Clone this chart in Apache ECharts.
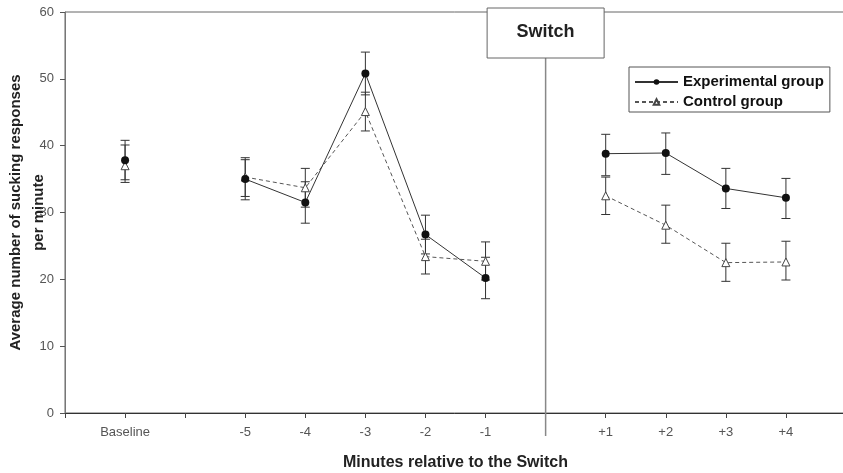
<!DOCTYPE html>
<html><head><meta charset="utf-8">
<script src="https://cdn.jsdelivr.net/npm/echarts@6/dist/echarts.min.js"></script>
<style>html,body{margin:0;padding:0;background:#fff}#c{width:843px;height:473px}</style>
</head><body><div id="c"></div>
<script>
var categories = ['', 'Baseline', '', '-5', '-4', '-3', '-2', '-1', '', '+1', '+2', '+3', '+4', ''];
var switchIndex = 8;
var switchLabel = 'Switch';
var seriesNames = ['Experimental group', 'Control group'];
var expMean = [null, 37.8, null, 35.0, 31.5, 50.8, 26.7, 20.2, null, 38.8, 38.9, 33.6, 32.2, null];
var expHigh = [null, 40.8, null, 38.2, 34.6, 54.0, 29.6, 23.3, null, 41.7, 41.9, 36.6, 35.1, null];
var expLow  = [null, 34.5, null, 31.9, 28.4, 47.6, 23.8, 17.1, null, 35.5, 35.7, 30.6, 29.1, null];
var ctrlMean = [null, 37.0, null, 35.3, 33.7, 45.1, 23.4, 22.7, null, 32.5, 28.1, 22.5, 22.6, null];
var ctrlHigh = [null, 40.1, null, 37.9, 36.6, 48.0, 26.0, 25.6, null, 35.3, 31.1, 25.4, 25.7, null];
var ctrlLow  = [null, 34.9, null, 32.4, 30.8, 42.2, 20.8, 19.9, null, 29.7, 25.4, 19.7, 19.9, null];
var yTicks = [0, 10, 20, 30, 40, 50, 60];
var xTitle = 'Minutes relative to the Switch';
var yTitle = 'Average number of sucking responses\nper minute';

function errData(lo, hi) {
  var out = [];
  for (var i = 0; i < lo.length; i++) if (lo[i] != null) out.push([i, lo[i], hi[i]]);
  return out;
}
function errRender(params, api) {
  var x = api.value(0);
  var a = api.coord([x, api.value(1)]);
  var b = api.coord([x, api.value(2)]);
  var w = 4.5;
  var st = { stroke: '#333', lineWidth: 1 };
  return { type: 'group', children: [
    { type: 'line', shape: { x1: a[0], y1: a[1], x2: b[0], y2: b[1] }, style: st },
    { type: 'line', shape: { x1: a[0]-w, y1: a[1], x2: a[0]+w, y2: a[1] }, style: st },
    { type: 'line', shape: { x1: b[0]-w, y1: b[1], x2: b[0]+w, y2: b[1] }, style: st }
  ]};
}

var chart = echarts.init(document.getElementById('c'));
chart.setOption({
  animation: false,
  grid: { left: 65, top: 12, width: 781, height: 401, show: true, borderColor: '#666', borderWidth: 1,
    containLabel: false, outerBoundsMode: 'none' },
  legend: {
    data: seriesNames, orient: 'vertical', left: 629, top: 67,
    itemWidth: 43, itemHeight: 7, itemGap: 4,
    borderColor: '#555', borderWidth: 1, padding: [7, 6, 2, 5],
    backgroundColor: '#fff',
    textStyle: { fontFamily: 'Liberation Sans, Arial', fontWeight: 'bold', fontSize: 15, lineHeight: 16, color: '#111' }
  },
  xAxis: {
    type: 'category', data: categories, boundaryGap: false,
    name: xTitle, nameLocation: 'middle', nameGap: 42, nameMoveOverlap: false,
    nameTextStyle: { fontFamily: 'Liberation Sans, Arial', fontWeight: 'bold', fontSize: 16, color: '#222' },
    axisLine: { lineStyle: { color: '#333', width: 1 } },
    axisTick: { show: true, length: 5, interval: 0, lineStyle: { color: '#444' } },
    axisLabel: { interval: 0, margin: 13, fontFamily: 'Liberation Sans, Arial', fontSize: 13, color: '#555' },
    splitLine: { show: false }
  },
  yAxis: {
    type: 'value', min: 0, max: 60, interval: 10,
    name: yTitle, nameLocation: 'middle', nameGap: 15, nameRotate: 90, nameMoveOverlap: false,
    nameTextStyle: { fontFamily: 'Liberation Sans, Arial', fontWeight: 'bold', fontSize: 15, lineHeight: 23, color: '#222' },
    axisLine: { show: true, lineStyle: { color: '#777', width: 1 } },
    axisTick: { show: true, length: 5, lineStyle: { color: '#555' } },
    axisLabel: { margin: 11, fontFamily: 'Liberation Sans, Arial', fontSize: 13, color: '#555',
      formatter: function (v) { return yTicks.indexOf(v) >= 0 ? String(v) : ''; } },
    splitLine: { show: false }
  },
  series: [
    { type: 'custom', name: 'expErr', renderItem: errRender, data: errData(expLow, expHigh), encode: { x: 0, y: [1, 2] }, z: 1, silent: true },
    { type: 'custom', name: 'ctrlErr', renderItem: errRender, data: errData(ctrlLow, ctrlHigh), encode: { x: 0, y: [1, 2] }, z: 1, silent: true },
    { type: 'line', name: seriesNames[1], data: ctrlMean, connectNulls: false,
      symbol: 'triangle', symbolSize: 8, z: 3,
      itemStyle: { color: '#fff', borderColor: '#444', borderWidth: 1 },
      lineStyle: { color: '#555', width: 1, type: [4, 3] } },
    { type: 'line', name: seriesNames[0], data: expMean, connectNulls: false,
      symbol: 'circle', symbolSize: 8, z: 4,
      itemStyle: { color: '#111', borderColor: '#111', borderWidth: 0 },
      lineStyle: { color: '#333', width: 1, type: 'solid' } },
    { type: 'custom', name: 'switch', z: 10, silent: true, data: [[switchIndex]], encode: { x: 0 },
      renderItem: function (params, api) {
        var top = api.coord([api.value(0), 60]);
        var bot = api.coord([api.value(0), 0]);
        return { type: 'group', children: [
          { type: 'line', shape: { x1: top[0], y1: top[1], x2: bot[0], y2: bot[1] + 23 }, style: { stroke: '#888', lineWidth: 1.5 } },
          { type: 'rect', shape: { x: top[0] - 58.5, y: top[1] - 4, width: 117, height: 50 }, style: { fill: '#fff', stroke: '#666', lineWidth: 1 } },
          { type: 'text', style: { x: top[0], y: top[1] + 20, text: switchLabel, align: 'center', verticalAlign: 'middle',
            font: 'bold 18px "Liberation Sans", Arial', fill: '#222' } }
        ]};
      } }
  ]
});
</script></body></html>
